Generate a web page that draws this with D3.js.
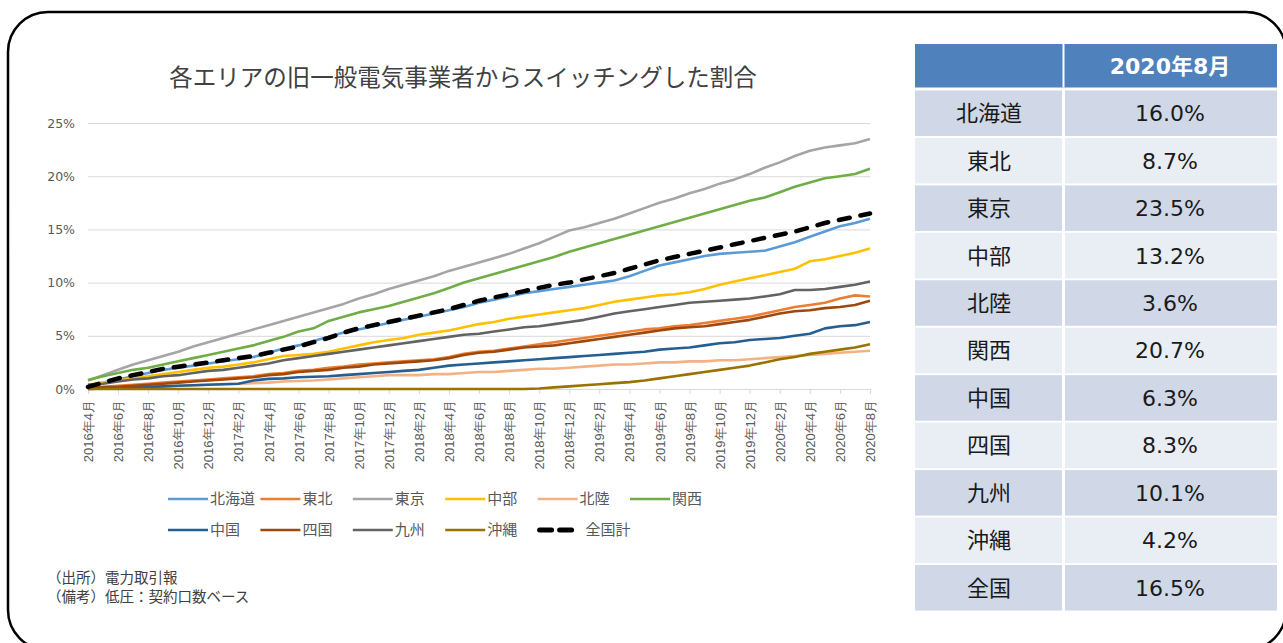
<!DOCTYPE html>
<html>
  <head>
    <meta charset="utf-8">
    <title>各エリアの旧一般電気事業者からスイッチングした割合</title>
    <script src="https://d3js.org/d3.v7.min.js"></script>
    <style>
      body { margin: 0; background: #fff; }
      svg { display: block; font-family: "DejaVu Sans", "Noto Sans CJK JP", sans-serif; }
    </style>
  </head>
  <body>
    <svg id="chart" width="1283" height="643"></svg>
    <script>
      // months on the x axis (monthly, Apr 2016 - Aug 2020)
      const months = [
        "2016年4月", "2016年5月", "2016年6月", "2016年7月", "2016年8月", "2016年9月", "2016年10月", "2016年11月", "2016年12月",
        "2017年1月", "2017年2月", "2017年3月", "2017年4月", "2017年5月", "2017年6月", "2017年7月", "2017年8月", "2017年9月",
        "2017年10月", "2017年11月", "2017年12月", "2018年1月", "2018年2月", "2018年3月", "2018年4月", "2018年5月", "2018年6月",
        "2018年7月", "2018年8月", "2018年9月", "2018年10月", "2018年11月", "2018年12月", "2019年1月", "2019年2月", "2019年3月",
        "2019年4月", "2019年5月", "2019年6月", "2019年7月", "2019年8月", "2019年9月", "2019年10月", "2019年11月", "2019年12月",
        "2020年1月", "2020年2月", "2020年3月", "2020年4月", "2020年5月", "2020年6月", "2020年7月", "2020年8月"
      ];
      // every second month is labelled
      const tickLabels = [
        "2016年4月", "2016年6月", "2016年8月", "2016年10月", "2016年12月", "2017年2月", "2017年4月", "2017年6月", "2017年8月",
        "2017年10月", "2017年12月", "2018年2月", "2018年4月", "2018年6月", "2018年8月", "2018年10月", "2018年12月", "2019年2月",
        "2019年4月", "2019年6月", "2019年8月", "2019年10月", "2019年12月", "2020年2月", "2020年4月", "2020年6月", "2020年8月"
      ];
      const yTicks = [0, 5, 10, 15, 20, 25];

      // switching rate (%) per area
      const hokkaido = [0.3,0.6,0.9,1.2,1.5,1.8,2.0,2.2,2.4,2.6, 2.8,3.0,3.4,3.8,4.1,4.5,4.9,5.3,5.6,5.9, 6.2,6.5,6.8,7.1,7.4,7.7,8.1,8.4,8.7,9.0, 9.2,9.4,9.6,9.8,10.0,10.2,10.6,11.1,11.6,11.9, 12.2,12.5,12.7,12.8,12.9,13.0,13.4,13.8,14.3,14.8, 15.3,15.6,16.0];
      const tohoku = [0.1,0.2,0.3,0.4,0.5,0.6,0.7,0.8,0.9,1.0, 1.1,1.2,1.4,1.5,1.7,1.8,2.0,2.1,2.3,2.4, 2.5,2.6,2.7,2.8,3.0,3.3,3.5,3.6,3.8,4.0, 4.2,4.4,4.6,4.8,5.0,5.2,5.4,5.6,5.7,5.9, 6.0,6.2,6.4,6.6,6.8,7.1,7.4,7.7,7.9,8.1, 8.5,8.8,8.7];
      const tokyo = [0.8,1.3,1.8,2.3,2.7,3.1,3.5,4.0,4.4,4.8, 5.2,5.6,6.0,6.4,6.8,7.2,7.6,8.0,8.5,8.9, 9.4,9.8,10.2,10.6,11.1,11.5,11.9,12.3,12.7,13.2, 13.7,14.3,14.9,15.2,15.6,16.0,16.5,17.0,17.5,17.9, 18.4,18.8,19.3,19.7,20.2,20.8,21.3,21.9,22.4,22.7, 22.9,23.1,23.5];
      const chubu = [0.4,0.6,0.8,1.0,1.2,1.4,1.6,1.8,2.0,2.1, 2.3,2.5,2.8,3.1,3.2,3.3,3.5,3.8,4.1,4.4, 4.6,4.8,5.1,5.3,5.5,5.8,6.1,6.3,6.6,6.8, 7.0,7.2,7.4,7.6,7.9,8.2,8.4,8.6,8.8,8.9, 9.1,9.4,9.8,10.1,10.4,10.7,11.0,11.3,12.0,12.2, 12.5,12.8,13.2];
      const hokuriku = [0.0,0.05,0.1,0.15,0.2,0.25,0.3,0.35,0.4,0.45, 0.5,0.55,0.6,0.7,0.75,0.8,0.9,1.0,1.1,1.2, 1.3,1.3,1.3,1.4,1.4,1.5,1.6,1.6,1.7,1.8, 1.9,1.9,2.0,2.1,2.2,2.3,2.3,2.4,2.5,2.5, 2.6,2.6,2.7,2.7,2.8,2.9,3.0,3.1,3.2,3.3, 3.4,3.5,3.6];
      const kansai = [0.85,1.2,1.5,1.8,2.0,2.3,2.6,2.9,3.2,3.5, 3.8,4.1,4.5,4.9,5.4,5.7,6.4,6.8,7.2,7.5, 7.8,8.2,8.6,9.0,9.5,10.0,10.4,10.8,11.2,11.6, 12.0,12.4,12.9,13.3,13.7,14.1,14.5,14.9,15.3,15.7, 16.1,16.5,16.9,17.3,17.7,18.0,18.5,19.0,19.4,19.8, 20.0,20.2,20.7];
      const chugoku = [0.0,0.05,0.1,0.15,0.2,0.25,0.3,0.35,0.4,0.45, 0.5,0.8,0.95,1.0,1.1,1.15,1.2,1.3,1.4,1.5, 1.6,1.7,1.8,2.0,2.2,2.3,2.4,2.5,2.6,2.7, 2.8,2.9,3.0,3.1,3.2,3.3,3.4,3.5,3.7,3.8, 3.9,4.1,4.3,4.4,4.6,4.7,4.8,5.0,5.2,5.7, 5.9,6.0,6.3];
      const shikoku = [0.1,0.15,0.2,0.3,0.4,0.5,0.6,0.7,0.8,0.9, 1.0,1.1,1.3,1.4,1.6,1.7,1.8,2.0,2.1,2.3, 2.4,2.5,2.6,2.7,2.9,3.2,3.4,3.5,3.7,3.9, 4.0,4.1,4.3,4.5,4.7,4.9,5.1,5.3,5.5,5.7, 5.8,5.9,6.1,6.3,6.5,6.8,7.1,7.3,7.4,7.6, 7.7,7.9,8.3];
      const kyushu = [0.4,0.5,0.7,0.9,1.0,1.2,1.3,1.5,1.7,1.8, 2.0,2.2,2.4,2.7,2.9,3.1,3.3,3.5,3.7,3.9, 4.1,4.3,4.5,4.7,4.9,5.1,5.2,5.4,5.6,5.8, 5.9,6.1,6.3,6.5,6.8,7.1,7.3,7.5,7.7,7.9, 8.1,8.2,8.3,8.4,8.5,8.7,8.9,9.3,9.3,9.4, 9.6,9.8,10.1];
      const okinawa = [0,0,0,0,0,0,0,0,0,0, 0,0,0,0,0,0,0,0,0,0, 0,0,0,0,0,0,0,0,0,0, 0.05,0.15,0.25,0.35,0.45,0.55,0.65,0.8,1.0,1.2, 1.4,1.6,1.8,2.0,2.2,2.5,2.8,3.0,3.3,3.5, 3.7,3.9,4.2];
      const national = [0.2,0.6,1.0,1.3,1.6,1.9,2.1,2.3,2.5,2.7, 2.9,3.1,3.4,3.7,4.0,4.4,4.8,5.3,5.7,6.0, 6.3,6.6,6.9,7.2,7.5,7.9,8.3,8.6,8.9,9.2, 9.5,9.8,10.0,10.3,10.6,10.9,11.3,11.7,12.1,12.4, 12.7,13.0,13.3,13.6,13.9,14.2,14.5,14.8,15.2,15.6, 15.9,16.2,16.5];

      const seriesNames = ["北海道", "東北", "東京", "中部", "北陸", "関西", "中国", "四国", "九州", "沖縄", "全国計"];
      const seriesValues = [hokkaido, tohoku, tokyo, chubu, hokuriku, kansai, chugoku, shikoku, kyushu, okinawa, national];
      const colors = ["#5b9bd5", "#ed7d31", "#a5a5a5", "#ffc000", "#f4b183", "#70ad47", "#255e91", "#9e480e", "#636363", "#997300", "#000000"];

      // table on the right (latest month)
      const tableHeader = "2020年8月";
      const tableAreas = ["北海道", "東北", "東京", "中部", "北陸", "関西", "中国", "四国", "九州", "沖縄", "全国"];
      const tableValues = ["16.0%", "8.7%", "23.5%", "13.2%", "3.6%", "20.7%", "6.3%", "8.3%", "10.1%", "4.2%", "16.5%"];

      const svg = d3.select("#chart");

      // rounded frame
      svg.append("rect")
        .attr("x", 8).attr("y", 12)
        .attr("width", 1278).attr("height", 638)
        .attr("rx", 40).attr("ry", 40)
        .attr("fill", "#fff")
        .attr("stroke", "#000")
        .attr("stroke-width", 2.5);

      // title
      svg.append("text")
        .attr("x", 463).attr("y", 86)
        .attr("text-anchor", "middle")
        .attr("font-family", "Noto Sans CJK JP")
        .attr("font-size", 23.5)
        .attr("fill", "#404040")
        .text("各エリアの旧一般電気事業者からスイッチングした割合");

      // scales
      const x = d3.scalePoint().domain(months).range([88, 870]);
      const y = d3.scaleLinear().domain([0, 25]).range([389, 123]);

      // gridlines + y labels
      const yAxis = d3.axisLeft(y)
        .tickValues(yTicks)
        .tickSize(-(870 - 88))
        .tickPadding(13)
        .tickFormat(d => d + "%");
      const yg = svg.append("g").attr("transform", "translate(88,0)").call(yAxis);
      yg.select(".domain").remove();
      yg.selectAll(".tick line").attr("stroke", "#d9d9d9");
      yg.selectAll(".tick text")
        .attr("font-family", "DejaVu Sans")
        .attr("font-size", 12.5)
        .attr("fill", "#595959");

      // x axis with rotated labels
      const xAxis = d3.axisBottom(x)
        .tickValues(tickLabels)
        .tickSize(5)
        .tickPadding(8);
      const xg = svg.append("g").attr("transform", "translate(0,389)").call(xAxis);
      xg.select(".domain").attr("stroke", "#d9d9d9").attr("stroke-width", 1.2);
      xg.selectAll(".tick line").attr("stroke", "#d9d9d9");
      xg.selectAll(".tick text")
        .attr("font-size", 13)
        .attr("fill", "#595959")
        .attr("text-anchor", "end")
        .attr("dy", "0.35em")
        .attr("transform", "translate(0,2) rotate(-90) translate(-9,0)")
        .attr("x", 0).attr("y", 0);

      // lines
      const line = d3.line()
        .x((d, i) => x(months[i]))
        .y(d => y(d));

      const plot = svg.append("g");
      seriesValues.forEach((vals, k) => {
        const last = k == seriesValues.length - 1;
        plot.append("path")
          .attr("d", line(vals))
          .attr("fill", "none")
          .attr("stroke", colors[k])
          .attr("stroke-width", last ? 4.5 : 2.6)
          .attr("stroke-linejoin", "round")
          .attr("stroke-linecap", last ? "round" : "butt")
          .attr("stroke-dasharray", last ? "11,11" : null);
      });

      // legend (two rows of six/five)
      const legendX = d3.scaleLinear().domain([0, 1]).range([168, 260.4]);
      const legend = svg.append("g");
      seriesNames.forEach((name, k) => {
        const col = k % 6, row = Math.floor(k / 6);
        const lx = legendX(col), ly = row == 0 ? 499 : 530;
        const last = k == seriesNames.length - 1;
        if (last) {
          legend.append("line")
            .attr("x1", lx + 2).attr("x2", lx + 40)
            .attr("y1", ly).attr("y2", ly)
            .attr("stroke", colors[k]).attr("stroke-width", 5)
            .attr("stroke-linecap", "round")
            .attr("stroke-dasharray", "12,8");
        } else {
          legend.append("line")
            .attr("x1", lx).attr("x2", lx + 40)
            .attr("y1", ly).attr("y2", ly)
            .attr("stroke", colors[k]).attr("stroke-width", 2.6);
        }
        legend.append("text")
          .attr("x", lx + (last ? 48 : 42)).attr("y", ly)
          .attr("dy", "0.36em")
          .attr("font-family", "Noto Sans CJK JP")
          .attr("font-size", 15)
          .attr("fill", "#595959")
          .text(name);
      });

      // notes
      svg.append("text")
        .attr("x", 47).attr("y", 583)
        .attr("font-family", "Noto Sans CJK JP")
        .attr("font-size", 14.5).attr("fill", "#404040")
        .text("（出所）電力取引報");
      svg.append("text")
        .attr("x", 47).attr("y", 602)
        .attr("font-family", "Noto Sans CJK JP")
        .attr("font-size", 14.5).attr("fill", "#404040")
        .text("（備考）低圧：契約口数ベース");

      // table
      const table = svg.append("g");
      const colX = [915, 1064], colW = [148, 213];
      table.append("rect")
        .attr("x", 915).attr("y", 44).attr("width", 362).attr("height", 43.5)
        .attr("fill", "#4f81bd");
      table.append("line")
        .attr("x1", 1063.5).attr("x2", 1063.5).attr("y1", 44).attr("y2", 87.5)
        .attr("stroke", "#fff").attr("stroke-width", 2);
      table.append("text")
        .attr("x", 1170).attr("y", 66).attr("dy", "0.36em")
        .attr("text-anchor", "middle")
        .attr("font-weight", "bold").attr("font-size", 22).attr("fill", "#fff")
        .text(tableHeader);

      const rowY = d3.scaleBand().domain(tableAreas).range([89.5, 611.5]).paddingInner(0.04).paddingOuter(0.02);
      tableAreas.forEach((area, k) => {
        const fill = k % 2 == 0 ? "#d0d8e8" : "#e9edf4";
        [0, 1].forEach(c => {
          table.append("rect")
            .attr("x", colX[c] + (c ? 1 : 0)).attr("y", rowY(area))
            .attr("width", colW[c] - 1).attr("height", rowY.bandwidth())
            .attr("fill", fill);
        });
        const cy = rowY(area) + rowY.bandwidth() / 2;
        table.append("text")
          .attr("x", 989).attr("y", cy).attr("dy", "0.36em")
          .attr("text-anchor", "middle")
          .attr("font-family", "Noto Sans CJK JP")
          .attr("font-size", 22).attr("fill", "#1a1a1a")
          .text(area);
        table.append("text")
          .attr("x", 1170).attr("y", cy).attr("dy", "0.36em")
          .attr("text-anchor", "middle")
          .attr("font-size", 22).attr("fill", "#1a1a1a")
          .text(tableValues[k]);
      });
    </script>
  </body>
</html>
